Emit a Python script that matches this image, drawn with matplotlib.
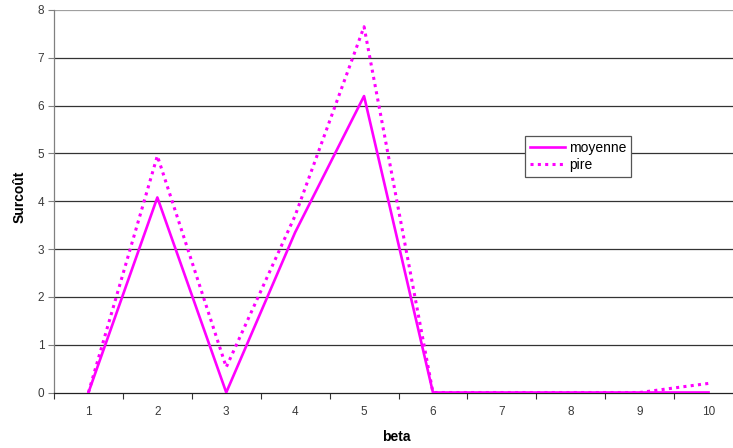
import numpy as np
import matplotlib
matplotlib.use("Agg")
import matplotlib.pyplot as plt

plt.rcParams['font.family'] = ['Liberation Sans', 'DejaVu Sans']

# data
beta = ['1', '2', '3', '4', '5', '6', '7', '8', '9', '10']
moyenne = [0, 4.08, 0, 3.35, 6.2, 0, 0, 0, 0, 0]
pire = [0, 4.95, 0.53, 3.7, 7.65, 0, 0, 0, 0, 0.19]

fig = plt.figure(figsize=(7.33, 4.48), dpi=100)
ax = fig.add_axes([54/733, 1-392.5/448, 689/733, 382.5/448])

x = np.arange(len(beta))
ax.plot(x, moyenne, color='#FF00FF', lw=1.9, label='moyenne', zorder=3)
ax.plot(x, pire, color='#FF00FF', lw=2.2, linestyle=(0, (1, 1.4)),
        label='pire', zorder=3)

ax.set_xlim(-0.5, len(beta)-0.5)
ax.set_ylim(0, 8)

# category ticks at boundaries, labels centered
ax.set_xticks(np.arange(-0.5, len(beta)+0.5, 1))
ax.set_xticklabels([])
ax.set_xticks(x, minor=True)
ax.set_xticklabels(beta, minor=True)
ax.tick_params(axis='x', which='major', length=4, width=0.8, color='#333333', direction='out')
ax.tick_params(axis='x', which='minor', length=0, pad=10, labelsize=8.5, labelcolor='#3a3a3a')
ax.set_yticks(range(0, 9))
ax.tick_params(axis='y', length=4, width=0.8, color='#808080', pad=3,
               labelsize=8.5, labelcolor='#3a3a3a')

for y in range(1, 8):
    ax.axhline(y, color='#333333', lw=0.9, zorder=1)
ax.axhline(8, color='#a0a0a0', lw=0.9, zorder=1)

for s in ['top', 'right']:
    ax.spines[s].set_visible(False)
ax.spines['left'].set_color('#808080')
ax.spines['left'].set_linewidth(0.9)
ax.spines['bottom'].set_color('#222222')
ax.spines['bottom'].set_linewidth(0.9)

fig.text(396/733, 1-437/448, 'beta', ha='center', va='center', fontsize=10, fontweight='bold')
fig.text(20/733, 1-197/448, 'Surcoût', ha='center', va='center', fontsize=10,
         fontweight='bold', rotation=90)

leg = ax.legend(loc='upper left', bbox_to_anchor=((525-54)/689, (392.5-136)/382.5),
                fontsize=10, frameon=True, fancybox=False, borderpad=0.35,
                handlelength=2.5, handletextpad=0.3, labelspacing=0.25,
                borderaxespad=0)
leg.get_frame().set_edgecolor('#555555')
leg.get_frame().set_linewidth(0.9)
leg.get_frame().set_facecolor('white')
leg.get_frame().set_alpha(1)

fig.savefig('out.png', dpi=100)
